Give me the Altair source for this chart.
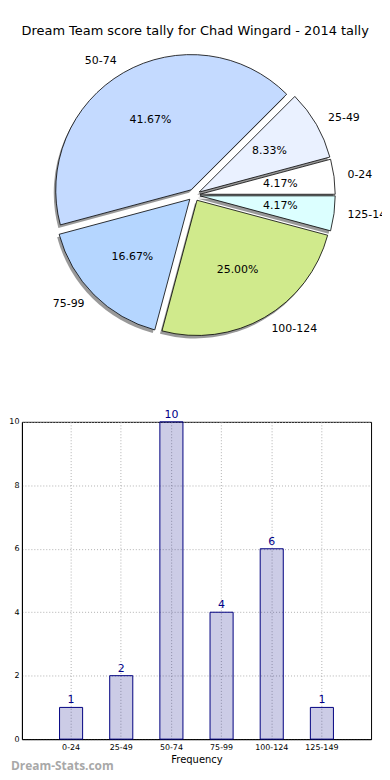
import altair as alt
import pandas as pd

# ---- data ----
title_text = "Dream Team score tally for Chad Wingard - 2014 tally"
categories = ["0-24", "25-49", "50-74", "75-99", "100-124", "125-149"]
counts = [1, 2, 10, 4, 6, 1]
slice_colors = ["#ffffff", "#eaf1ff", "#c4daff", "#b5d6ff", "#d0ea8c", "#dcffff"]
y_ticks = [0, 2, 4, 6, 8, 10]
x_title = "Frequency"
watermark = ["Dream-Stats.com"]

FONT = "DejaVu Sans"

# ---- pie layout styles ----
CX, CY, R, EXP = 173, 150, 136, 6
LR, PR = 1.1 * R, 0.6 * R

df = pd.DataFrame({"range": categories, "count": counts, "order": list(range(len(categories)))})

base = (
    alt.Chart(df)
    .transform_window(cum="sum(count)", sort=[alt.SortField("order")], frame=[None, 0])
    .transform_joinaggregate(total="sum(count)")
    .transform_calculate(
        a1="2*PI*(datum.cum - datum.count)/datum.total",
        a2="2*PI*datum.cum/datum.total",
    )
    .transform_calculate(
        mid="(datum.a1 + datum.a2)/2",
        t1="5*PI/2 - datum.a1",
        t2="5*PI/2 - datum.a2",
    )
    .transform_calculate(
        cx=f"{CX} + {EXP}*cos(datum.mid)",
        cy=f"{CY} - {EXP}*sin(datum.mid)",
    )
    .transform_calculate(
        lx=f"datum.cx + {LR}*cos(datum.mid)",
        ly=f"datum.cy - {LR}*sin(datum.mid)",
        px=f"datum.cx + {PR}*cos(datum.mid)",
        py=f"datum.cy - {PR}*sin(datum.mid)",
        pct="format(100*datum.count/datum.total, '.2f') + '%'",
        side="cos(datum.mid) > 0 ? 'L' : 'R'",
    )
)

pos = dict(
    x=alt.X("cx:Q", scale=None),
    y=alt.Y("cy:Q", scale=None),
    theta=alt.Theta("t1:Q", scale=None, stack=None),
    theta2=alt.Theta2("t2:Q"),
)

shadow = base.mark_arc(outerRadius=R, color="#333333", opacity=0.5, xOffset=-2, yOffset=3).encode(**pos)
wedges = base.mark_arc(outerRadius=R, stroke="black", strokeWidth=0.8).encode(
    color=alt.Color("range:N", scale=alt.Scale(domain=categories, range=slice_colors), legend=None),
    **pos,
)
pcts = base.mark_text(align="center", baseline="middle", fontSize=11, font=FONT, color="black").encode(
    x=alt.X("px:Q", scale=None), y=alt.Y("py:Q", scale=None), text="pct:N"
)
lab_l = base.transform_filter("datum.side == 'L'").mark_text(
    align="left", baseline="middle", fontSize=11, font=FONT, color="black", clip=True
).encode(x=alt.X("lx:Q", scale=None), y=alt.Y("ly:Q", scale=None), text="range:N")
lab_r = base.transform_filter("datum.side == 'R'").mark_text(
    align="right", baseline="middle", fontSize=11, font=FONT, color="black"
).encode(x=alt.X("lx:Q", scale=None), y=alt.Y("ly:Q", scale=None), text="range:N")

pie = alt.layer(shadow, wedges, pcts, lab_l, lab_r).properties(width=362, height=344)

# ---- bar chart ----
BW, BH = 351, 319
bdf = pd.DataFrame({"range": categories, "count": counts})

xenc = alt.X(
    "range:N",
    sort=categories,
    scale=alt.Scale(paddingInner=0.54, paddingOuter=0.75),
    axis=alt.Axis(
        title=x_title, labelAngle=0, grid=True, bandPosition=0.5, gridDash=[1, 2],
        gridColor="#b0b0b0", tickSize=0, labelPadding=4, labelFontSize=8, labelFont=FONT,
        titleFont=FONT, titleFontSize=10, titleFontWeight="normal", titlePadding=3,
        domainColor="black", labelColor="black", titleColor="black",
    ),
)
yenc = alt.Y(
    "count:Q",
    scale=alt.Scale(domain=[0, 10], nice=False),
    axis=alt.Axis(
        values=y_ticks, title=None, grid=True, gridDash=[1, 2], gridColor="#b0b0b0",
        tickSize=0, labelPadding=3, labelFontSize=8, labelFont=FONT,
        domainColor="black", labelColor="black",
    ),
)
bars = alt.Chart(bdf).mark_bar(fill="#000080", fillOpacity=0.2, stroke="#000080", strokeWidth=1).encode(x=xenc, y=yenc)
bar_txt = alt.Chart(bdf).mark_text(baseline="bottom", dy=-2, fontSize=11, font=FONT, color="#000088").encode(
    x=alt.X("range:N", sort=categories), y="count:Q", text="count:Q"
)
wm = alt.Chart(pd.DataFrame({"t": watermark})).mark_text(
    align="left", baseline="middle", fontSize=12, font="Open Sans", fontWeight="bold", color="#a8a8a8"
).encode(x=alt.value(-11), y=alt.value(BH + 27), text="t:N")

barchart = alt.layer(bars, bar_txt, wm).properties(
    width=BW, height=BH, view=alt.ViewBackground(stroke="black", strokeWidth=1)
)

chart = (
    alt.vconcat(pie, barchart, spacing=20)
    .properties(
        title=alt.TitleParams(title_text, fontSize=13, font=FONT, fontWeight="normal", anchor="middle", offset=8, color="black"),
        padding={"top": 15, "left": 0, "right": 0, "bottom": 0},
    )
    .configure_view(strokeWidth=0)
)

chart.save("out.html", embed_options={"renderer": "svg", "actions": False})
